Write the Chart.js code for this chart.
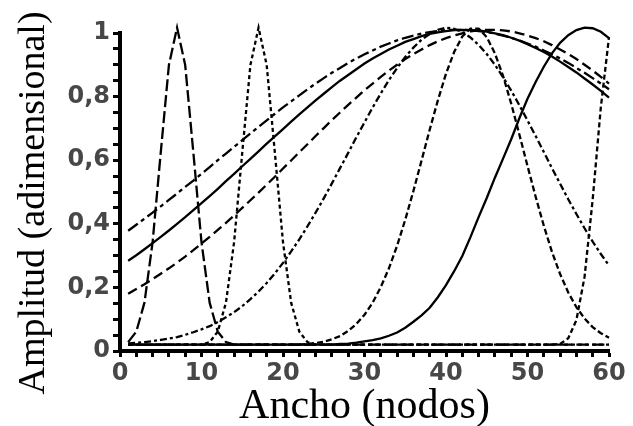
<!DOCTYPE html>
<html>
<head>
<meta charset="utf-8">
<script src="https://cdn.jsdelivr.net/npm/chart.js"></script>
<style>
  html, body { margin: 0; padding: 0; background: #fff; }
</style>
</head>
<body>
<canvas id="modesChart" width="633" height="426"></canvas>
<script>
// x nodes shared by every curve
const nodes = [
  1, 2, 3, 4, 5, 6, 7, 8, 9, 10, 11, 12, 13, 14, 15, 16, 17, 18, 19, 20,
  21, 22, 23, 24, 25, 26, 27, 28, 29, 30, 31, 32, 33, 34, 35, 36, 37, 38, 39, 40,
  41, 42, 43, 44, 45, 46, 47, 48, 49, 50, 51, 52, 53, 54, 55, 56, 57, 58, 59, 60
];

// narrow peak at node 7 (long dashes)
const peak7 = [
  0.028, 0.061, 0.152, 0.342, 0.624, 0.899, 1.017, 0.899, 0.624, 0.342,
  0.152, 0.061, 0.028, 0.02, 0.02, 0.02, 0.02, 0.02, 0.02, 0.02,
  0.02, 0.02, 0.02, 0.02, 0.02, 0.02, 0.02, 0.02, 0.02, 0.02,
  0.02, 0.02, 0.02, 0.02, 0.02, 0.02, 0.02, 0.02, 0.02, 0.02,
  0.02, 0.02, 0.02, 0.02, 0.02, 0.02, 0.02, 0.02, 0.02, 0.02,
  0.02, 0.02, 0.02, 0.02, 0.02, 0.02, 0.02, 0.02, 0.02, 0.02
];

// narrow peak at node 17 (dots)
const peak17 = [
  0.02, 0.02, 0.02, 0.02, 0.02, 0.02, 0.02, 0.02, 0.02, 0.02,
  0.028, 0.061, 0.152, 0.342, 0.624, 0.899, 1.017, 0.899, 0.624, 0.342,
  0.152, 0.061, 0.028, 0.02, 0.02, 0.02, 0.02, 0.02, 0.02, 0.02,
  0.02, 0.02, 0.02, 0.02, 0.02, 0.02, 0.02, 0.02, 0.02, 0.02,
  0.02, 0.02, 0.02, 0.02, 0.02, 0.02, 0.02, 0.02, 0.02, 0.02,
  0.02, 0.02, 0.02, 0.02, 0.02, 0.02, 0.02, 0.02, 0.02, 0.02
];

// narrow peak at the right edge (short dashes)
const peak60 = [
  0.02, 0.02, 0.02, 0.02, 0.02, 0.02, 0.02, 0.02, 0.02, 0.02,
  0.02, 0.02, 0.02, 0.02, 0.02, 0.02, 0.02, 0.02, 0.02, 0.02,
  0.02, 0.02, 0.02, 0.02, 0.02, 0.02, 0.02, 0.02, 0.02, 0.02,
  0.02, 0.02, 0.02, 0.02, 0.02, 0.02, 0.02, 0.02, 0.02, 0.02,
  0.02, 0.02, 0.02, 0.02, 0.02, 0.02, 0.02, 0.02, 0.02, 0.02,
  0.02, 0.02, 0.02, 0.022, 0.040, 0.097, 0.233, 0.477, 0.767, 0.987
];

// solid curve peaking near node 57
const peak57 = [
  0.02, 0.02, 0.02, 0.02, 0.02, 0.02, 0.02, 0.02, 0.02, 0.02,
  0.02, 0.02, 0.02, 0.02, 0.02, 0.02, 0.02, 0.02, 0.02, 0.02,
  0.02, 0.02, 0.02, 0.02, 0.02, 0.02, 0.022, 0.023, 0.026, 0.030,
  0.034, 0.040, 0.048, 0.058, 0.073, 0.092, 0.112, 0.136, 0.169, 0.207,
  0.251, 0.299, 0.358, 0.421, 0.481, 0.545, 0.605, 0.666, 0.732, 0.793,
  0.846, 0.894, 0.936, 0.969, 0.993, 1.009, 1.017, 1.015, 1.004, 0.984
];

// broad curves, top to bottom at node 1
const wideDashDot = [
  0.378, 0.397, 0.416, 0.435, 0.455, 0.475, 0.495, 0.516, 0.536, 0.557,
  0.578, 0.600, 0.621, 0.642, 0.663, 0.684, 0.705, 0.725, 0.746, 0.766,
  0.785, 0.804, 0.823, 0.841, 0.858, 0.875, 0.890, 0.906, 0.920, 0.933,
  0.945, 0.957, 0.967, 0.977, 0.985, 0.992, 0.998, 1.003, 1.006, 1.009,
  1.010, 1.010, 1.009, 1.006, 1.003, 0.998, 0.992, 0.985, 0.977, 0.967,
  0.957, 0.945, 0.933, 0.920, 0.906, 0.890, 0.875, 0.858, 0.841, 0.823
];

const wideSolid = [
  0.284, 0.301, 0.320, 0.339, 0.359, 0.379, 0.400, 0.421, 0.443, 0.465,
  0.487, 0.510, 0.534, 0.557, 0.581, 0.604, 0.628, 0.652, 0.675, 0.698,
  0.721, 0.744, 0.766, 0.788, 0.809, 0.830, 0.850, 0.868, 0.886, 0.904,
  0.920, 0.934, 0.948, 0.960, 0.972, 0.981, 0.990, 0.997, 1.002, 1.006,
  1.009, 1.010, 1.009, 1.008, 1.004, 0.999, 0.993, 0.985, 0.976, 0.965,
  0.953, 0.940, 0.926, 0.910, 0.893, 0.876, 0.857, 0.838, 0.818, 0.797
];

const wideDashed = [
  0.180, 0.195, 0.210, 0.226, 0.243, 0.260, 0.278, 0.297, 0.317, 0.338,
  0.359, 0.381, 0.403, 0.426, 0.450, 0.474, 0.498, 0.523, 0.548, 0.574,
  0.599, 0.625, 0.650, 0.676, 0.701, 0.726, 0.750, 0.774, 0.797, 0.820,
  0.841, 0.862, 0.882, 0.900, 0.918, 0.934, 0.948, 0.962, 0.974, 0.984,
  0.992, 0.999, 1.005, 1.008, 1.010, 1.010, 1.008, 1.005, 0.999, 0.992,
  0.984, 0.974, 0.962, 0.948, 0.934, 0.918, 0.900, 0.882, 0.862, 0.841
];

// medium curve peaking near node 40
const midDashDot = [
  0.024, 0.026, 0.028, 0.031, 0.035, 0.039, 0.044, 0.051, 0.059, 0.068,
  0.078, 0.091, 0.106, 0.122, 0.141, 0.163, 0.187, 0.214, 0.244, 0.277,
  0.313, 0.351, 0.392, 0.435, 0.480, 0.527, 0.575, 0.623, 0.672, 0.719,
  0.766, 0.810, 0.852, 0.890, 0.925, 0.954, 0.979, 0.997, 1.010, 1.017,
  1.013, 1.003, 0.986, 0.963, 0.934, 0.900, 0.861, 0.819, 0.773, 0.725,
  0.676, 0.626, 0.575, 0.526, 0.477, 0.431, 0.386, 0.344, 0.305, 0.269
];

// narrower curve peaking near node 43
const midDashed = [
  0.02, 0.02, 0.02, 0.02, 0.02, 0.02, 0.02, 0.02, 0.02, 0.02,
  0.02, 0.02, 0.02, 0.02, 0.02, 0.02, 0.02, 0.02, 0.02, 0.02,
  0.02, 0.020, 0.022, 0.025, 0.029, 0.037, 0.047, 0.063, 0.085, 0.114,
  0.152, 0.201, 0.260, 0.331, 0.413, 0.503, 0.599, 0.696, 0.788, 0.872,
  0.940, 0.989, 1.014, 1.014, 0.987, 0.936, 0.865, 0.778, 0.681, 0.582,
  0.485, 0.394, 0.312, 0.242, 0.184, 0.138, 0.102, 0.075, 0.056, 0.042
];

const curves = [
  { values: peak7, dash: [12, 4] },
  { values: peak17, dash: [4, 3] },
  { values: peak60, dash: [5, 3] },
  { values: peak57, dash: [] },
  { values: wideDashDot, dash: [12, 4, 4, 4] },
  { values: wideSolid, dash: [] },
  { values: wideDashed, dash: [10, 5] },
  { values: midDashDot, dash: [7, 3, 3, 3] },
  { values: midDashed, dash: [6, 3] },
];

const tickFont = { family: "DejaVu Sans", weight: "bold", size: 24 };
const tickColor = "#474747";

// y title drawn by hand so it can sit a little lower than the chart-area centre
const yTitle = {
  id: "yTitle",
  afterDraw(chart) {
    const c = chart.ctx;
    c.save();
    c.translate(34, 203);
    c.rotate(-Math.PI / 2);
    c.font = "38px 'Liberation Serif'";
    c.fillStyle = "#000";
    c.textAlign = "center";
    c.textBaseline = "middle";
    c.fillText("Amplitud (adimensional)", 0, 0);
    c.restore();
  },
};

const ctx = document.getElementById("modesChart").getContext("2d");
new Chart(ctx, {
  type: "line",
  data: {
    datasets: curves.map((c) => ({
      data: nodes.map((x, i) => ({ x: x, y: c.values[i] })),
      borderColor: "#000",
      borderWidth: 2.3,
      borderDash: c.dash,
      pointRadius: 0,
      tension: 0,
      fill: false,
      clip: false,
    })),
  },
  options: {
    responsive: false,
    animation: false,
    devicePixelRatio: 1,
    layout: { padding: { top: 33, right: 24, left: 0, bottom: 0 } },
    plugins: {
      legend: { display: false },
      tooltip: { enabled: false },
    },
    scales: {
      x: {
        type: "linear",
        min: 0,
        max: 60,
        afterFit: (scale) => { scale.height = 75; },
        border: { display: true, color: "#000", width: 4 },
        grid: { drawOnChartArea: false, drawTicks: true, tickLength: 6, tickWidth: 3, tickColor: "#000" },
        ticks: {
          stepSize: 2,
          autoSkip: false,
          maxRotation: 0,
          padding: 2,
          color: tickColor,
          font: tickFont,
          callback: (v) => (v % 10 === 0 ? String(v) : ""),
        },
        title: {
          display: true,
          text: "Ancho (nodos)",
          color: "#000",
          font: { family: "Liberation Serif", size: 42, lineHeight: 1 },
          padding: { top: 0, bottom: -2 },
        },
      },
      y: {
        min: 0,
        max: 1,
        afterFit: (scale) => { scale.width = 120; },
        border: { display: true, color: "#000", width: 4 },
        grid: { drawOnChartArea: false, drawTicks: true, tickLength: 7, tickWidth: 3, tickColor: "#000" },
        ticks: {
          stepSize: 0.05,
          autoSkip: false,
          padding: 3,
          color: tickColor,
          font: tickFont,
          callback: (v) => {
            const k = Math.round(v * 100);
            if (k % 20 !== 0) return "";
            if (k === 0) return "0";
            if (k === 100) return "1";
            return "0," + k / 10;
          },
        },
      },
    },
  },
  plugins: [yTitle],
});
</script>
</body>
</html>
